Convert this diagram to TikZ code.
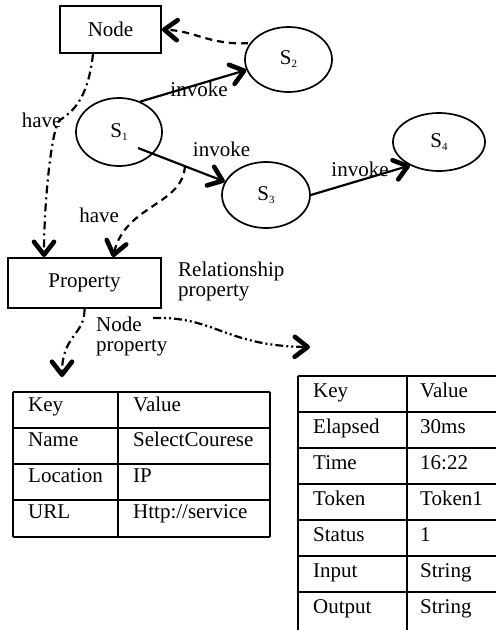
\documentclass[tikz,border=0pt]{standalone}
\usepackage{fontspec}
\setmainfont{Liberation Serif}
\usetikzlibrary{shapes.geometric,arrows.meta,calc}
\newcommand{\svcname}[1]{S\raisebox{-3pt}{\fontsize{11}{11}\selectfont #1}}
\begin{document}
\begin{tikzpicture}[x=1pt,y=-1pt,
  every node/.style={font=\fontsize{21}{20}\selectfont},
  box/.style={draw,line width=1.8pt,inner sep=0pt},
  svc/.style={draw,ellipse,line width=1.7pt,inner sep=0pt},
  txt/.style={inner sep=0pt,anchor=base},
  ltxt/.style={inner sep=0pt,anchor=base west,align=left},
  link/.style={line width=2.2pt},
  headarrow/.style={-{Straight Barb[length=13pt,width=20pt,line width=4.6pt,round]}},
  dashedline/.style={link,dash pattern=on 7pt off 5pt},
  dashdot/.style={link,dash pattern=on 8pt off 4pt on 2pt off 4pt},
  dashdotdot/.style={link,dash pattern=on 8pt off 3pt on 2pt off 3pt on 2pt off 3pt},
  grid/.style={line width=1.4pt}
]
\useasboundingbox (0,0) rectangle (496,630);

% entities
\node[box,minimum width=101pt,minimum height=47pt] (nd) at (110.5,29.5) {Node};
\node[box,minimum width=153pt,minimum height=50pt] (prop) at (84.5,283) {Property};

% services
\node[svc,minimum width=86pt,minimum height=68pt] (s1) at (119,132) {\svcname{1}};
\node[svc,minimum width=87pt,minimum height=65pt] (s2) at (288.5,59.5) {\svcname{2}};
\node[svc,minimum width=88pt,minimum height=66pt] (s3) at (266,195) {\svcname{3}};
\node[svc,minimum width=92pt,minimum height=58pt] (s4) at (439,142) {\svcname{4}};

% invocations
\draw[link,headarrow] (s1.55) -- (s2.194);
\draw[link,headarrow] ($(s1.center)+(19,16)$) -- coordinate[pos=0.54] (m) (s3.162);
\draw[link,headarrow] (s3.east) -- (s4.219);
\node[txt] (inv1) at (199,96) {invoke};
\node[txt] (inv2) at (221.5,156) {invoke};
\node[txt] (inv3) at (360,176) {invoke};

% service -> node
\draw[dashedline,headarrow,shorten <=2pt] (s2.157) .. controls (210,45) and (195,31) .. (nd.east);

% have relations
\draw[dashdot,headarrow] ($(nd.south)+(-17.5,0)$) .. controls (88,100) and (72,112) .. (60,120)
  .. controls (52,125) and (44,200) .. ($(prop.north)+(-40.5,0)$);
\draw[dashedline,headarrow] (m) .. controls (183,205) and (125,205) .. ($(prop.north)+(28.5,0)$);
\node[txt] (have1) at (41.7,127.5) {have};
\node[txt] (have2) at (99.2,222.5) {have};

% property kinds
\node[ltxt,anchor=north west] (relp) at (178,262) {Relationship\\property};
\node[ltxt,anchor=north west] (nodep) at (96,317) {Node\\property};
\coordinate (ntab) at (62,377);
\coordinate (rtab) at (310,347);
\coordinate (rstart) at (153,318);
\draw[dashdot,headarrow] (prop.south) .. controls (85,335) and (62,335) .. (ntab);
\draw[dashdotdot,headarrow] (rstart) .. controls (215,316) and (225,346) .. (rtab);

% node property table
\foreach \yy in {392,428,464,500,537} \draw[grid] (13,\yy) -- (270,\yy);
\foreach \xx in {13,118,270} \draw[grid] (\xx,392) -- (\xx,537);
\node[ltxt] (nk1) at (28,411) {Key};      \node[ltxt] (nv1) at (133,411) {Value};
\node[ltxt] (nk2) at (28,446) {Name};     \node[ltxt] (nv2) at (133,446) {SelectCourese};
\node[ltxt] (nk3) at (28,482) {Location}; \node[ltxt] (nv3) at (133,482) {IP};
\node[ltxt] (nk4) at (28,518) {URL};      \node[ltxt] (nv4) at (133,518) {Http://service};

% relationship property table
\foreach \yy in {376,412,448,484,520,556,592} \draw[grid] (298,\yy) -- (496,\yy);
\foreach \xx in {298,407} \draw[grid] (\xx,376) -- (\xx,630);
\node[ltxt] (rk1) at (313,397) {Key};     \node[ltxt] (rv1) at (420,397) {Value};
\node[ltxt] (rk2) at (313,433) {Elapsed}; \node[ltxt] (rv2) at (420,433) {30ms};
\node[ltxt] (rk3) at (313,469) {Time};    \node[ltxt] (rv3) at (420,469) {16:22};
\node[ltxt] (rk4) at (313,505) {Token};   \node[ltxt] (rv4) at (420,505) {Token1};
\node[ltxt] (rk5) at (313,541) {Status};  \node[ltxt] (rv5) at (420,541) {1};
\node[ltxt] (rk6) at (313,577) {Input};   \node[ltxt] (rv6) at (420,577) {String};
\node[ltxt] (rk7) at (313,613) {Output};  \node[ltxt] (rv7) at (420,613) {String};
\end{tikzpicture}
\end{document}
